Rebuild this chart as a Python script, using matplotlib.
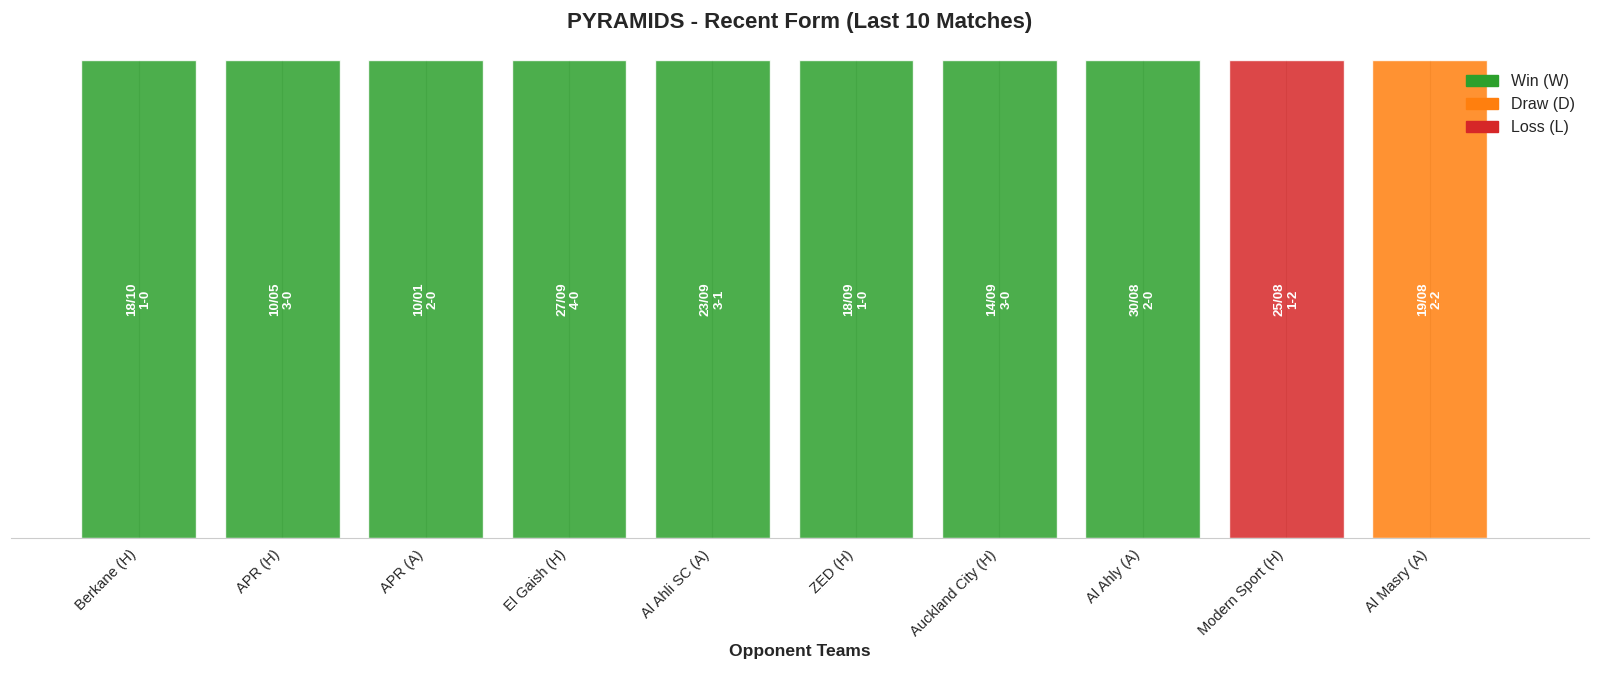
import matplotlib
matplotlib.use("Agg")
import matplotlib.pyplot as plt
import matplotlib.patches as mpatches
import seaborn as sns

sns.set_style("whitegrid")
plt.rcParams['font.family'] = ['Liberation Sans', 'DejaVu Sans']

teams = ['Berkane (H)', 'APR (H)', 'APR (A)', 'El Gaish (H)', 'Al Ahli SC (A)',
         'ZED (H)', 'Auckland City (H)', 'Al Ahly (A)', 'Modern Sport (H)', 'Al Masry (A)']
dates = ['18/10', '10/05', '10/01', '27/09', '23/09', '18/09', '14/09', '30/08', '25/08', '19/08']
scores = ['1-0', '3-0', '2-0', '4-0', '3-1', '1-0', '3-0', '2-0', '1-2', '2-2']
results = ['W', 'W', 'W', 'W', 'W', 'W', 'W', 'W', 'L', 'D']

result_colors = {'W': '#2ca02c', 'D': '#ff7f0e', 'L': '#d62728'}
colors = [result_colors[r] for r in results]

fig = plt.figure(figsize=(16, 6.79), dpi=100)
ax = fig.add_axes([11/1600, 1 - 538/679, 1578/1600, 478/679])

x = list(range(len(teams)))
bars = ax.bar(x, [1]*len(teams), color=colors, alpha=0.85, width=0.8,
              edgecolor='white', linewidth=1)

# date + score written inside each bar
for i, b in enumerate(bars):
    ax.text(b.get_x() + b.get_width()/2, 0.5, dates[i] + '\n' + scores[i],
            ha='center', va='center', rotation=90, color='white',
            fontsize=9.6, fontweight='bold')

ax.set_xlim(-0.89, 10.11)
ax.set_ylim(0, 1)
ax.set_yticks([])
ax.set_xticks(x)
ax.set_xticklabels(teams, rotation=45, ha='right', fontsize=10.5)
ax.set_xlabel('Opponent Teams', fontsize=12.6, fontweight='bold')
fig.suptitle('PYRAMIDS - Recent Form (Last 10 Matches)', fontsize=16,
             fontweight='bold', y=0.983)

for s in ['left', 'top', 'right']:
    ax.spines[s].set_visible(False)

handles = [mpatches.Patch(color=result_colors['W'], label='Win (W)'),
           mpatches.Patch(color=result_colors['D'], label='Draw (D)'),
           mpatches.Patch(color=result_colors['L'], label='Loss (L)')]
ax.legend(handles=handles, loc='upper right', frameon=False, fontsize=11.5)

fig.savefig('out.png', dpi=100)
